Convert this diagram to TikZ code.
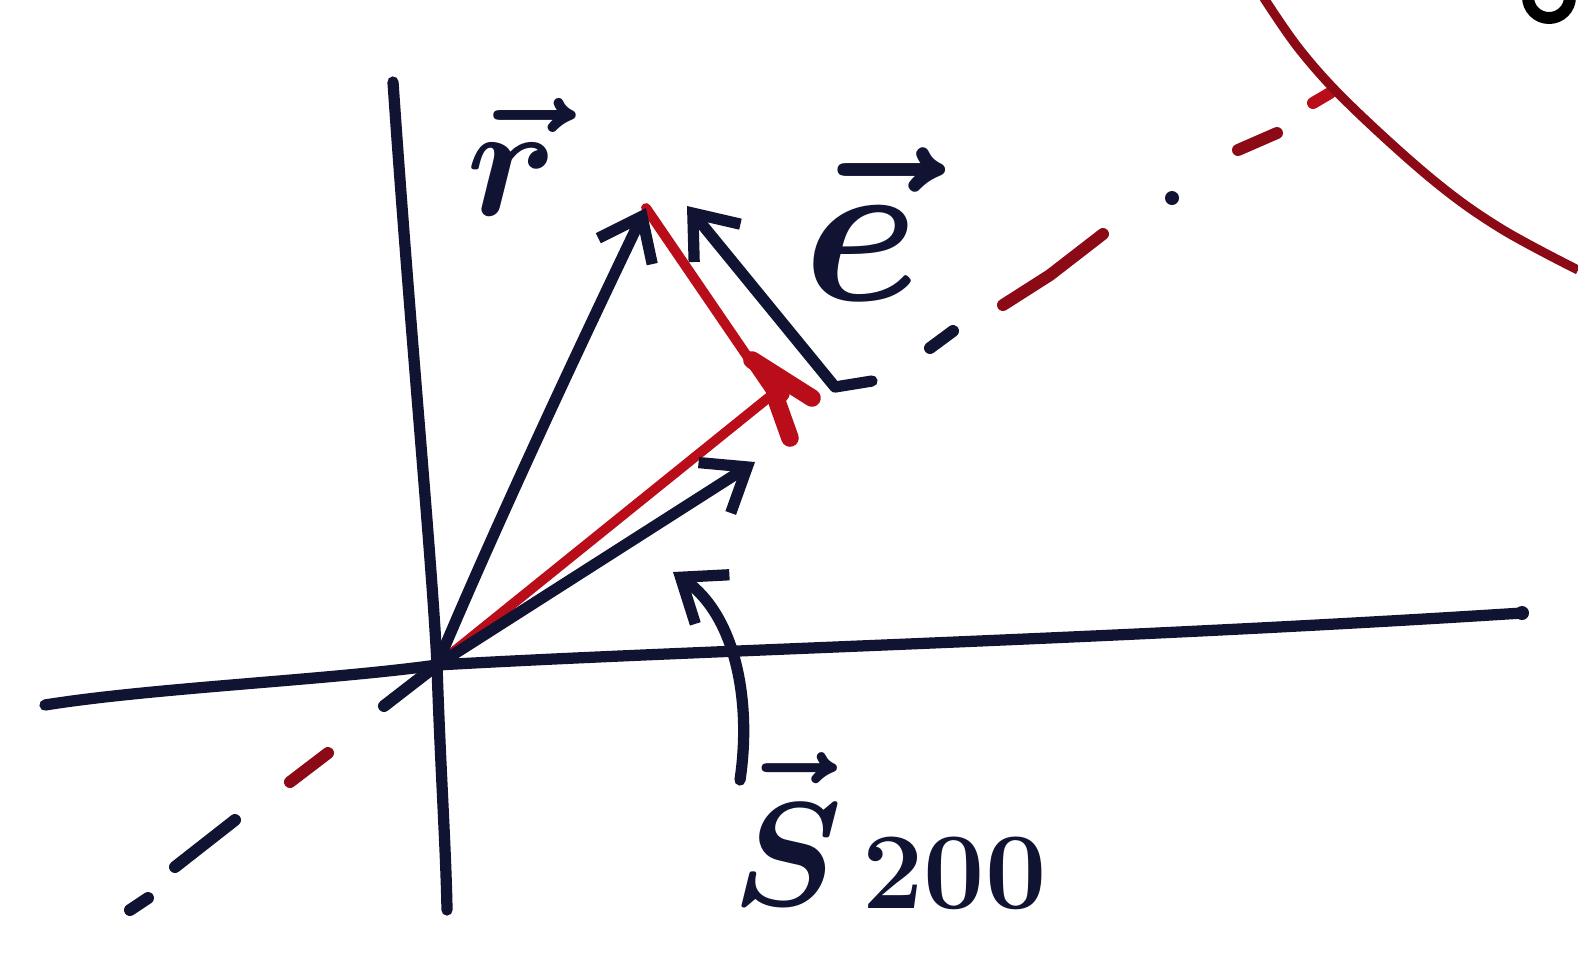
\RequirePackage{fix-cm}
\documentclass[tikz,border=0pt]{standalone}
\usetikzlibrary{arrows.meta}
\definecolor{inkc}{RGB}{16,20,50}
\definecolor{redc}{RGB}{185,14,26}
\definecolor{darkred}{RGB}{140,10,22}
\begin{document}
\begin{tikzpicture}[x=0.01cm,y=-0.01cm,
  ink/.style={draw=inkc,line width=3.2pt,line cap=round,line join=round},
  redl/.style={draw=redc,line width=2.8pt,line cap=round,line join=round},
  dashstroke/.style={draw=#1,line width=3.4pt,line cap=round},
  tip/.style={-{Straight Barb[length=11pt,width=17pt]}},
  lbl/.style={text=inkc,inner sep=0pt}]
\useasboundingbox (0,0) rectangle (1578,959);
\fill[white] (0,0) rectangle (1578,959);
% key points
\coordinate (O) at (437,665);
\coordinate (Rt) at (646,208);
\coordinate (Ft) at (773,394);
\coordinate (Bt) at (755,462);
\coordinate (Et) at (687,206);
\coordinate (Eb) at (835,387);
\coordinate (Eh) at (872,381);
\coordinate (Vtop) at (393,82);
\coordinate (Vbot) at (447,910);
\coordinate (Hl) at (45,705);
\coordinate (Hr) at (1522,613);
\coordinate (C0) at (740,780);
\coordinate (C1) at (673,572);
% axes
\draw[ink] (Vtop) .. controls (410,330) and (432,560) .. (O) .. controls (440,760) and (446,850) .. (Vbot);
\draw[ink] (Hl) .. controls (150,688) and (330,680) .. (O) .. controls (700,650) and (1100,640) .. (Hr);
\fill[inkc] (Hr) circle (7);
% dashed line through origin
\draw[dashstroke=inkc] (O) -- (384,706);
\draw[dashstroke=darkred] (290,782) -- (328,753);
\draw[dashstroke=inkc] (175,867) -- (235,820);
\draw[dashstroke=inkc] (130,910) -- (148,898);
\draw[dashstroke=inkc] (930,348) -- (953,331);
\draw[dashstroke=darkred] (1003,305) -- (1050,275) -- (1103,234);
\fill[inkc] (1172,198) circle (7);
\draw[dashstroke=darkred] (1238,150) -- (1277,133);
\draw[dashstroke=redc] (1313,103) -- (1330,93);
% red circle arc
\draw[draw=darkred,line width=2.6pt] plot[smooth,tension=0.6] coordinates {(1262,-5) (1300,50) (1350,105) (1433,180) (1500,228) (1578,270)};
% partial letter at top right
\draw[draw=black,line width=3.4pt] (1549,-3) circle (21);
% red construction
\draw[redl] (O) -- (Ft) -- (Rt);
\draw[draw=redc,line width=5pt,line cap=round] (752,360) -- (812,398);
\draw[draw=redc,line width=5pt,line cap=round] (775,396) -- (790,438);
\fill[redc] (778,392) circle (12);
% vectors
\draw[ink,tip] (O) .. controls (497,522) and (585,335) .. (Rt);
\draw[ink,tip] (O) -- (Bt);
\draw[ink,tip] (Eh) -- (Eb) -- (Et);
\draw[ink,tip] (C0) .. controls (752,700) and (735,615) .. (C1);
% labels
\node[lbl,anchor=base,font=\fontsize{46}{52}\selectfont\boldmath] (rl) at (512,215) {$\vec{r}$};
\node[lbl,anchor=base,font=\fontsize{60}{66}\selectfont\boldmath] (el) at (862,300) {$\vec{e}$};
\node[lbl,anchor=base,font=\fontsize{42}{48}\selectfont\boldmath] (sl) at (788,905) {$\vec{\mathstrut S}$};
\node[lbl,anchor=base west,font=\fontsize{31}{36}\selectfont\boldmath] (sub) at (862,908) {$200$};
\end{tikzpicture}
\end{document}
